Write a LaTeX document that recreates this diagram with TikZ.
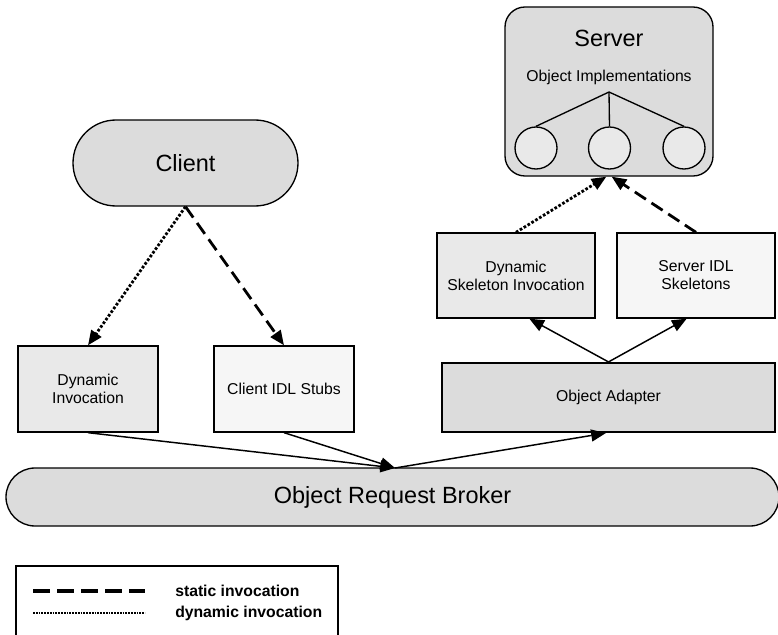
\documentclass[tikz,border=0pt]{standalone}
\usepackage{fontspec}
\setmainfont{Liberation Sans}
\usetikzlibrary{arrows.meta}

\definecolor{fillmid}{HTML}{DCDCDC}
\definecolor{filllight}{HTML}{E9E9E9}
\definecolor{fillpale}{HTML}{F6F6F6}

\newcommand{\bigtxt}{\fontsize{17.6}{21}\selectfont}
\newcommand{\medtxt}{\fontsize{11.8}{13.5}\selectfont}

\tikzset{
  box/.style={draw=black, line width=1pt, inner sep=0pt, align=center, font=\medtxt},
  pill/.style={box, font=\bigtxt},
  tip/.style={-{Triangle[length=11pt,width=9pt]}},
  solidarrow/.style={tip, line width=1.1pt},
  staticarrow/.style={tip, line width=2.1pt, dash pattern=on 10pt off 5pt},
  dynamicarrow/.style={tip, line width=2.1pt, dash pattern=on 2pt off 1.4pt},
}

\begin{document}
\begin{tikzpicture}[x=0.75pt, y=-0.75pt]
\useasboundingbox (0,0) rectangle (778,635);

% Server with its object implementations
\node[box, fill=fillmid, rounded corners=15pt, minimum width=156pt, minimum height=126.75pt] (server) at (609,91.5) {};
\node[font=\bigtxt, inner sep=0pt] (servertitle) at (609,38) {Server};
\node[font=\medtxt, inner sep=0pt] (impl) at (609,77) {Object Implementations};
\coordinate (fork) at (609,92);
\foreach \n/\x in {objA/536, objB/609.5, objC/684}
  \node[draw=black, line width=1pt, fill=filllight, circle, minimum size=31.5pt, inner sep=0pt] (\n) at (\x,148) {};
\foreach \n in {objA, objB, objC}
  \draw[line width=1pt] (fork) -- (\n.north);

% Client
\node[pill, fill=fillmid, rounded corners=32.25pt, minimum width=168.75pt, minimum height=64.5pt] (client) at (185.5,163) {Client};

% Client-side interfaces
\node[box, fill=filllight, minimum width=105pt, minimum height=64.5pt] (dii) at (88,389) {Dynamic\\Invocation};
\node[box, fill=fillpale, minimum width=105pt, minimum height=64.5pt] (stubs) at (284,389) {Client IDL Stubs};

% Server-side interfaces
\node[box, fill=filllight, minimum width=118.5pt, minimum height=63.75pt] (dsi) at (516,275.5) {Dynamic\\Skeleton Invocation};
\node[box, fill=fillpale, minimum width=118.5pt, minimum height=63.75pt] (skel) at (696,275.5) {Server IDL\\Skeletons};
\node[box, line width=1.6pt, fill=fillmid, minimum width=249.75pt, minimum height=51.75pt] (adapter) at (608.5,397.5) {Object Adapter};

% ORB
\node[pill, fill=fillmid, rounded corners=21.75pt, minimum width=579.75pt, minimum height=43.5pt] (orb) at (392.5,497) {Object Request Broker};
\coordinate (orbin) at (395,468);

% Connectors
\draw[dynamicarrow] (client.south) -- (dii.north);
\draw[staticarrow] (client.south) -- (stubs.north);
\draw[solidarrow] (dii.south) -- (orbin);
\draw[solidarrow] (stubs.south) -- (orbin);
\draw[solidarrow] (orbin) -- ([xshift=-2pt]adapter.south);
\draw[solidarrow] (adapter.north) -- ([xshift=10pt]dsi.south);
\draw[solidarrow] (adapter.north) -- ([xshift=-7pt]skel.south);
\draw[dynamicarrow] (dsi.north) -- ([xshift=-2pt]server.south);
\draw[staticarrow] (skel.north) -- ([xshift=2pt]server.south);

% Legend
\draw[line width=1pt] (16,640) -- (16,566) -- (338,566) -- (338,640);
\coordinate (sA) at (33,591);
\coordinate (sB) at (145,591);
\coordinate (dA) at (33,613);
\coordinate (dB) at (145,613);
\draw[line width=2.5pt, dash pattern=on 13pt off 5pt] (sA) -- (sB);
\draw[line width=2pt, dash pattern=on 1.3pt off 0.8pt] (dA) -- (dB);
\node[anchor=west, inner sep=0pt, font=\medtxt\bfseries] (lstatic) at (175,591) {static invocation};
\node[anchor=west, inner sep=0pt, font=\medtxt\bfseries] (ldynamic) at (175,613) {dynamic invocation};
\end{tikzpicture}
\end{document}
